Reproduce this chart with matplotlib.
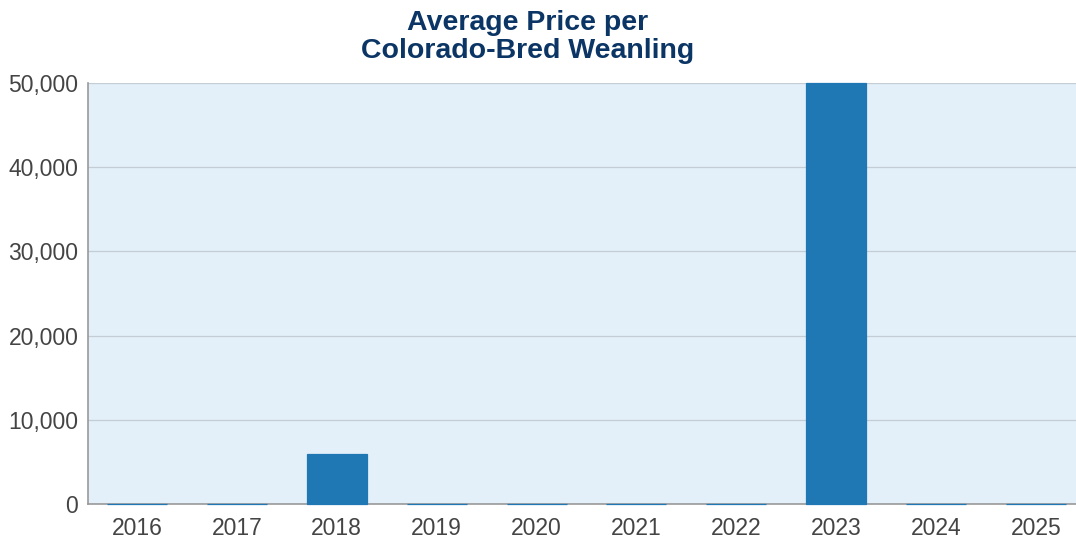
import numpy as np
import matplotlib.pyplot as plt

years = ['2016', '2017', '2018', '2019', '2020', '2021', '2022', '2023', '2024', '2025']
avg_price = [0, 0, 5950, 0, 0, 0, 0, 50000, 0, 0]

plt.rcParams['font.family'] = ['Liberation Sans', 'DejaVu Sans']

fig = plt.figure(figsize=(10.76, 5.42), dpi=100)
ax = fig.add_axes([0.0818, 0.0701, 0.9182, 0.7768])
ax.set_facecolor('#e4f0f9')

x = np.arange(len(years))
# zero-valued years still show as a thin line on the baseline
bars = ax.bar(x, avg_price, width=0.6, color='#1f77b4', edgecolor='#1f77b4', linewidth=0.9, zorder=3)
for b in bars:
    b.set_clip_on(False)

ax.set_ylim(0, 50000)
ax.set_xlim(-0.49, 9.4)
ax.set_yticks(np.arange(0, 50001, 10000))
ax.set_yticklabels(['{:,}'.format(v) for v in range(0, 50001, 10000)])
ax.set_xticks(x)
ax.set_xticklabels(years)
ax.tick_params(axis='both', length=0, labelsize=16.5, labelcolor='#444444')
ax.tick_params(axis='x', pad=9)
ax.tick_params(axis='y', pad=7)
ax.grid(axis='y', color='#c4ccd4', linewidth=0.9, zorder=0)

for side in ['top', 'right']:
    ax.spines[side].set_visible(False)
for side in ['left', 'bottom']:
    ax.spines[side].set_color('#999999')
    ax.spines[side].set_linewidth(1.2)
    ax.spines[side].set_zorder(2)

fig.suptitle('Average Price per\nColorado-Bred Weanling', x=0.49, y=0.982,
             fontsize=20.5, fontweight='bold', color='#0b3565', linespacing=1.1)

fig.savefig('out.png', dpi=100)
